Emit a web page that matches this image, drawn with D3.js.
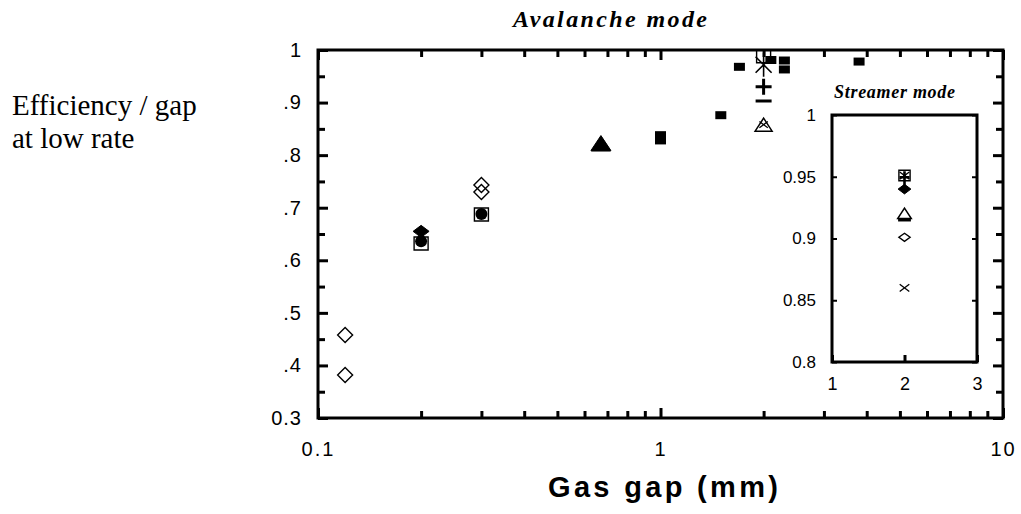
<!DOCTYPE html>
<html lang="en">
<head>
<meta charset="UTF-8">
<title>Efficiency vs gas gap</title>
<style>
  body { margin: 0; background: #fff; }
  svg { display: block; }
</style>
</head>
<body>
<svg id="svg"></svg>
<script src="https://d3js.org/d3.v7.min.js"></script>
<script>
// ---- data ----
// avalanche mode, main plot
const openDiamondGap = [0.12, 0.12, 0.3, 0.3];
const openDiamondEff = [0.458, 0.382, 0.743, 0.73];
const filledDiamondGap = [0.2];
const filledDiamondEff = [0.655];
const openSquareGap = [0.2, 0.3, 2];
const openSquareEff = [0.632, 0.687, 0.988];
const filledCircleGap = [0.2, 0.3];
const filledCircleEff = [0.636, 0.688];
const filledTriangleGap = [0.67];
const filledTriangleEff = [0.822];
const openTriangleGap = [0.67, 2];
const openTriangleEff = [0.82, 0.857];
const filledSquareGap = [1, 1, 1.5, 1.7, 2.1, 2.3, 2.3, 3.8];
const filledSquareEff = [0.838, 0.828, 0.876, 0.968, 0.981, 0.98, 0.963, 0.978];
const asteriskGap = [2];
const asteriskEff = [0.972];
const plusGap = [2];
const plusEff = [0.93];
const minusGap = [2];
const minusEff = [0.903];
const crossGap = [2];
const crossEff = [0.858];

// streamer mode, inset (all at 2 mm)
const streamerMarkers = ["squareOpen", "cross", "plusTall", "diamondFilled", "triangleOpen", "minus", "diamondOpen", "cross"];
const streamerGap = [2, 2, 2, 2, 2, 2, 2, 2];
const streamerEff = [0.951, 0.951, 0.948, 0.94, 0.92, 0.915, 0.901, 0.86];

const yMainTicks = [0.3, 0.4, 0.5, 0.6, 0.7, 0.8, 0.9, 1];
const yMainLabels = ["0.3", ".4", ".5", ".6", ".7", ".8", ".9", "1"];
const xMainTicks = [0.1, 1, 10];
const xMainLabels = ["0.1", "1", "10"];
const yInsetTicks = [0.8, 0.85, 0.9, 0.95, 1];
const yInsetLabels = ["0.8", "0.85", "0.9", "0.95", "1"];
const xInsetTicks = [1, 2, 3];

// ---- canvas ----
const width = 1021, height = 514;
const svg = d3.select("#svg").attr("width", width).attr("height", height)
  .attr("viewBox", `0 0 ${width} ${height}`);

const x = d3.scaleLog().domain([0.1, 10]).range([318, 1003]);
const y = d3.scaleLinear().domain([0.3, 1]).range([418, 50]);
const xi = d3.scaleLinear().domain([1, 3]).range([832, 977]);
const yi = d3.scaleLinear().domain([0.8, 1]).range([362, 115]);

// marker glyphs: path + style, centered on 0,0
function glyph(type, k) {
  k = k || 1;
  const s = v => v * k;
  switch (type) {
    case "diamondOpen": return {d: `M0,${-s(7.5)}L${s(7.5)},0L0,${s(7.5)}L${-s(7.5)},0Z`, fill: "none", stroke: "#000", sw: 1.4};
    case "diamondOpenWide": return {d: `M0,${-s(5)}L${s(7)},0L0,${s(5)}L${-s(7)},0Z`, fill: "none", stroke: "#000", sw: 1.4};
    case "diamondFilled": return {d: `M0,${-s(6)}L${s(8)},0L0,${s(6)}L${-s(8)},0Z`, fill: "#000", stroke: "#000", sw: 1};
    case "squareOpen": return {d: `M${-s(7)},${-s(6.5)}H${s(7)}V${s(6.5)}H${-s(7)}Z`, fill: "none", stroke: "#000", sw: 1.4};
    case "squareFilled": return {d: `M-5.5,-4H5.5V4H-5.5Z`, fill: "#000", stroke: "none", sw: 0};
    case "circleFilled": return {d: d3.symbol(d3.symbolCircle, Math.PI * 36 * k * k)(), fill: "#000", stroke: "none", sw: 0};
    case "triangleFilled": return {d: `M0,${-s(8)}L${s(10)},${s(7)}L${-s(10)},${s(7)}Z`, fill: "#000", stroke: "#000", sw: 1};
    case "triangleOpen": return {d: `M0,${-s(7)}L${s(8.5)},${s(6)}L${-s(8.5)},${s(6)}Z`, fill: "none", stroke: "#000", sw: 1.5};
    case "asterisk": return {d: `M0,-12V12M-8,-8L8,8M-8,8L8,-8`, fill: "none", stroke: "#000", sw: 1.6};
    case "plus": return {d: `M-8,0H8M0,-8V8`, fill: "none", stroke: "#000", sw: 3};
    case "plusTall": return {d: `M-5,-2H5M0,-8V8`, fill: "none", stroke: "#000", sw: 2.6};
    case "minus": return {d: `M${-s(8)},0H${s(8)}`, fill: "none", stroke: "#000", sw: 3};
    case "cross": return {d: `M${-s(6)},${-s(4.5)}L${s(6)},${s(4.5)}M${-s(6)},${s(4.5)}L${s(6)},${-s(4.5)}`, fill: "none", stroke: "#000", sw: 1.3};
  }
}

function drawMarkers(g, type, gaps, effs, xs, ys, k) {
  const gl = glyph(type, k);
  g.selectAll(null)
    .data(d3.zip(gaps, effs))
    .enter().append("path")
    .attr("transform", d => `translate(${xs(d[0])},${ys(d[1])})`)
    .attr("d", gl.d)
    .attr("fill", gl.fill)
    .attr("stroke", gl.stroke)
    .attr("stroke-width", gl.sw);
}

// ---- main axes ----
const axisFont = "Arial, 'Liberation Sans', sans-serif";
const serif = "'Liberation Serif', 'Times New Roman', serif";
const axes = svg.append("g").attr("font-family", axisFont);

function styleAxis(g, sw) {
  g.selectAll("path.domain").remove();
  g.selectAll(".tick line").attr("stroke", "#000").attr("stroke-width", sw);
}

// minor log positions
const logMinor = [];
[0.1, 1].forEach(dec => { for (let m = 2; m <= 9; m++) logMinor.push(dec * m); });
const yMinor = d3.range(0.35, 1, 0.1).map(v => +v.toFixed(2));

// left
axes.append("g").attr("transform", `translate(${x.range()[0]},0)`)
  .call(d3.axisLeft(y).tickValues(yMainTicks).tickSize(-10).tickPadding(16)
    .tickFormat((d, i) => yMainLabels[i]))
  .call(g => styleAxis(g, 3))
  .call(g => g.selectAll("text").attr("font-size", 20).attr("fill", "#000").attr("letter-spacing", 1));
axes.append("g").attr("transform", `translate(${x.range()[0]},0)`)
  .call(d3.axisLeft(y).tickValues(yMinor).tickSize(-7).tickFormat(""))
  .call(g => styleAxis(g, 3));
// right
axes.append("g").attr("transform", `translate(${x.range()[1]},0)`)
  .call(d3.axisRight(y).tickValues(yMainTicks).tickSize(-10).tickFormat(""))
  .call(g => styleAxis(g, 3));
axes.append("g").attr("transform", `translate(${x.range()[1]},0)`)
  .call(d3.axisRight(y).tickValues(yMinor).tickSize(-7).tickFormat(""))
  .call(g => styleAxis(g, 3));
// bottom
axes.append("g").attr("transform", `translate(0,${y.range()[0]})`)
  .call(d3.axisBottom(x).tickValues(xMainTicks).tickSize(-10).tickPadding(24)
    .tickFormat((d, i) => xMainLabels[i]))
  .call(g => styleAxis(g, 3))
  .call(g => g.selectAll("text").attr("font-size", 20).attr("fill", "#000").attr("letter-spacing", 2));
axes.append("g").attr("transform", `translate(0,${y.range()[0]})`)
  .call(d3.axisBottom(x).tickValues(logMinor).tickSize(-7).tickFormat(""))
  .call(g => styleAxis(g, 3));
// top
axes.append("g").attr("transform", `translate(0,${y.range()[1]})`)
  .call(d3.axisTop(x).tickValues(xMainTicks).tickSize(-10).tickFormat(""))
  .call(g => styleAxis(g, 3));
axes.append("g").attr("transform", `translate(0,${y.range()[1]})`)
  .call(d3.axisTop(x).tickValues(logMinor).tickSize(-7).tickFormat(""))
  .call(g => styleAxis(g, 3));

// frame
svg.append("rect")
  .attr("x", x.range()[0]).attr("y", y.range()[1])
  .attr("width", x.range()[1] - x.range()[0]).attr("height", y.range()[0] - y.range()[1])
  .attr("fill", "none").attr("stroke", "#000").attr("stroke-width", 3);

// ---- main markers ----
const marks = svg.append("g");
drawMarkers(marks, "diamondOpen", openDiamondGap, openDiamondEff, x, y);
drawMarkers(marks, "diamondFilled", filledDiamondGap, filledDiamondEff, x, y);
drawMarkers(marks, "squareOpen", openSquareGap, openSquareEff, x, y);
drawMarkers(marks, "circleFilled", filledCircleGap, filledCircleEff, x, y);
drawMarkers(marks, "triangleFilled", filledTriangleGap, filledTriangleEff, x, y);
drawMarkers(marks, "triangleOpen", openTriangleGap, openTriangleEff, x, y);
drawMarkers(marks, "squareFilled", filledSquareGap, filledSquareEff, x, y);
drawMarkers(marks, "asterisk", asteriskGap, asteriskEff, x, y);
drawMarkers(marks, "plus", plusGap, plusEff, x, y);
drawMarkers(marks, "minus", minusGap, minusEff, x, y);
drawMarkers(marks, "cross", crossGap, crossEff, x, y, 0.7);

// ---- inset: streamer mode ----
const inset = svg.append("g").attr("font-family", axisFont);
inset.append("rect")
  .attr("x", xi.range()[0]).attr("y", yi.range()[1])
  .attr("width", xi.range()[1] - xi.range()[0]).attr("height", yi.range()[0] - yi.range()[1])
  .attr("fill", "#fff").attr("stroke", "#000").attr("stroke-width", 3);

inset.append("g").attr("transform", `translate(${xi.range()[0]},0)`)
  .call(d3.axisLeft(yi).tickValues(yInsetTicks).tickSize(-5).tickPadding(16)
    .tickFormat((d, i) => yInsetLabels[i]))
  .call(g => styleAxis(g, 2))
  .call(g => g.selectAll("text").attr("font-size", 17).attr("fill", "#000"));
inset.append("g").attr("transform", `translate(${xi.range()[1]},0)`)
  .call(d3.axisRight(yi).tickValues(yInsetTicks).tickSize(-5).tickFormat(""))
  .call(g => styleAxis(g, 2));
inset.append("g").attr("transform", `translate(0,${yi.range()[0]})`)
  .call(d3.axisBottom(xi).tickValues(xInsetTicks).tickSize(-7).tickPadding(15)
    .tickFormat(d3.format("d")))
  .call(g => styleAxis(g, 3))
  .call(g => g.selectAll("text").attr("font-size", 18).attr("fill", "#000"));

const insetMarks = inset.append("g");
streamerMarkers.forEach((t, i) => {
  const type = t === "diamondOpen" ? "diamondOpenWide" : t;
  drawMarkers(insetMarks, type, [streamerGap[i]], [streamerEff[i]], xi, yi, t === "minus" ? 0.8 : 0.8);
});

// ---- texts ----
svg.append("text")
  .attr("x", 513).attr("y", 27)
  .attr("textLength", 194).attr("lengthAdjust", "spacing")
  .attr("font-family", serif)
  .attr("font-weight", "bold").attr("font-style", "italic").attr("font-size", 24)
  .text("Avalanche mode");

svg.append("text")
  .attr("x", 834).attr("y", 98)
  .attr("textLength", 121).attr("lengthAdjust", "spacing")
  .attr("font-family", serif)
  .attr("font-weight", "bold").attr("font-style", "italic").attr("font-size", 18)
  .text("Streamer mode");

const ylab = svg.append("text")
  .attr("font-family", serif)
  .attr("font-size", 29).attr("fill", "#000");
ylab.append("tspan").attr("x", 12).attr("y", 115).text("Efficiency / gap");
ylab.append("tspan").attr("x", 12).attr("y", 148).text("at low rate");

svg.append("text")
  .attr("x", 548).attr("y", 497)
  .attr("textLength", 230).attr("lengthAdjust", "spacing")
  .attr("font-family", axisFont)
  .attr("font-weight", "bold").attr("font-size", 29)
  .text("Gas gap (mm)");
</script>
</body>
</html>
